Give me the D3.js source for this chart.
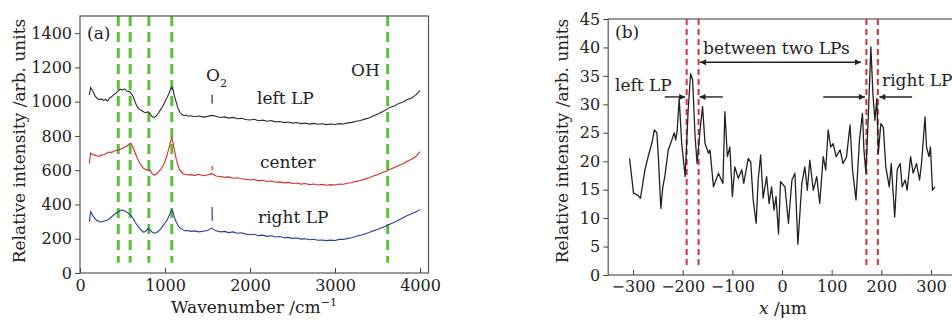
<!DOCTYPE html>
<html>
<head>
<meta charset="utf-8">
<script src="https://cdn.jsdelivr.net/npm/d3@7"></script>
<style>
  body { margin: 0; background: #fff; }
  svg text { font-family: "DejaVu Serif", serif; fill: #222; }
</style>
</head>
<body>
<svg id="chart" width="952" height="321"></svg>
<script>
// ---- panel (a): Raman spectra ----
const wavenumbers = [110, 125, 150, 175, 200, 225, 250, 275, 300, 325, 350, 375, 400, 425, 450, 475, 500, 525, 550, 575,
  600, 625, 650, 675, 700, 725, 750, 775, 800, 825, 850, 875, 900, 925, 950, 975, 1000, 1025, 1050, 1065,
  1080, 1095, 1110, 1130, 1150, 1175, 1200, 1225, 1250, 1275, 1300, 1350, 1400, 1450, 1500, 1550, 1600, 1650, 1700, 1750,
  1800, 1850, 1900, 1950, 2000, 2050, 2100, 2150, 2200, 2250, 2300, 2350, 2400, 2450, 2500, 2550, 2600, 2650, 2700, 2750,
  2800, 2850, 2900, 2950, 3000, 3050, 3100, 3150, 3200, 3250, 3300, 3350, 3400, 3450, 3500, 3550, 3600, 3650, 3700, 3750,
  3800, 3850, 3900, 3950, 4000];
const leftLP = [1040, 1082, 1062, 1035, 1020, 1012, 1016, 1008, 1013, 1004, 1022, 1030, 1042, 1050, 1063, 1072, 1068, 1075, 1062, 1060,
  1050, 1030, 995, 968, 955, 948, 940, 936, 942, 928, 912, 908, 918, 935, 955, 975, 1000, 1025, 1052, 1072,
  1086, 1068, 1035, 1000, 965, 938, 925, 918, 922, 915, 918, 912, 916, 910, 914, 920, 915, 908, 911, 904,
  908, 900, 903, 896, 893, 897, 889, 892, 886, 890, 882, 884, 878, 881, 875, 878, 872, 875, 869, 873,
  868, 871, 866, 870, 867, 872, 870, 876, 879, 886, 890, 898, 905, 916, 926, 940, 952, 968, 975, 990,
  998, 1012, 1022, 1038, 1065];
const center = [640, 700, 692, 688, 684, 680, 688, 690, 695, 702, 706, 704, 712, 715, 718, 722, 728, 735, 740, 752,
  758, 730, 700, 668, 645, 625, 610, 604, 598, 600, 580, 572, 578, 590, 605, 625, 650, 690, 735, 768,
  788, 760, 720, 670, 630, 600, 585, 578, 575, 572, 574, 570, 576, 568, 572, 580, 566, 563, 558, 561,
  553, 556, 550, 547, 543, 546, 538, 541, 534, 537, 530, 532, 526, 529, 522, 525, 519, 522, 516, 519,
  514, 517, 512, 516, 514, 519, 518, 524, 528, 535, 540, 548, 556, 566, 574, 585, 594, 606, 616, 628,
  638, 652, 664, 680, 708];
const rightLP = [300, 358, 335, 318, 306, 300, 298, 302, 305, 310, 318, 330, 340, 350, 358, 366, 368, 362, 355, 345,
  335, 318, 295, 278, 262, 248, 238, 245, 260, 250, 238, 232, 236, 245, 258, 275, 292, 310, 335, 355,
  368, 352, 325, 300, 280, 264, 256, 250, 246, 248, 243, 246, 240, 244, 248, 262, 246, 240, 243, 236,
  240, 232, 235, 227, 223, 226, 218, 221, 214, 217, 210, 213, 206, 208, 202, 204, 198, 200, 194, 197,
  191, 193, 189, 192, 190, 196, 196, 202, 206, 214, 220, 228, 236, 246, 254, 264, 274, 286, 296, 310,
  322, 336, 346, 356, 370];
const bandLines = [450, 590, 810, 1080, 3620];
const o2Band = 1555;
const o2Marks = [[990, 1040], [600, 625], [305, 385]];
const wnTicks = [0, 1000, 2000, 3000, 4000];
const intensityTicksA = [0, 200, 400, 600, 800, 1000, 1200, 1400];

// ---- panel (b): intensity profile across the line ----
const positions = [-307, -299, -290, -285, -276, -269, -262, -257, -252, -249, -244, -240, -236, -229, -222, -217, -214, -211, -207, -202,
  -195, -189, -184, -180, -175, -171, -165, -160, -155, -148, -145, -138, -128, -119, -115, -110, -105, -100, -95, -88,
  -81, -77, -68, -63, -58, -52, -48, -43, -38, -31, -26, -21, -16, -12, -7, -3, 1, 6, 13, 20,
  26, 32, 40, 46, 51, 56, 63, 70, 76, 83, 88, 93, 98, 103, 109, 117, 123, 130, 137, 142,
  149, 156, 162, 165, 169, 174, 179, 183, 187, 191, 194, 199, 204, 209, 216, 220, 227, 232, 238, 242,
  248, 252, 259, 264, 271, 277, 281, 288, 291, 296, 299, 303, 308];
const profile = [20.5, 14.4, 14.0, 13.5, 18.5, 21, 23.2, 25.5, 25, 20.8, 11.7, 15.5, 17.3, 22, 23.7, 25, 23.7, 25.5, 31, 23.1,
  17.3, 29, 35.4, 34.3, 24.3, 19.6, 25.5, 29.6, 23.1, 21.4, 22, 15.5, 17.9, 16.1, 28.7, 20.8, 22.5, 13.8, 19, 17,
  18.5, 16.1, 20.5, 19.9, 13.2, 9.1, 16.7, 21.1, 13.5, 17.3, 12.6, 15.5, 11.4, 13.8, 7.2, 16.4, 16.0, 15.5, 9.1, 16.7,
  17.9, 5.4, 16.1, 19, 14.9, 20.2, 14.9, 17.3, 12.6, 20.8, 18.5, 25.5, 22.5, 23.1, 20.8, 22, 19.6, 20.8, 26.4, 18.5,
  13.2, 23.7, 28.4, 22, 17.9, 28.4, 40.1, 31.9, 27.2, 31, 21.4, 26.6, 26, 19, 15.5, 19.6, 10.2, 18.5, 19.6, 15.5,
  16.7, 14.9, 20.8, 17.9, 19.6, 16.7, 19.6, 27.8, 22.5, 20.8, 22.5, 14.9, 15.5];
const lpEdges = [-192, -168, 170, 193];
const posTicks = [-300, -200, -100, 0, 100, 200, 300];
const intensityTicksB = [0, 5, 10, 15, 20, 25, 30, 35, 40, 45];

const svg = d3.select('#chart');

const defs = svg.append('defs');
['arrowEnd', 'arrowStart'].forEach((id, k) => {
  defs.append('marker')
    .attr('id', id)
    .attr('viewBox', '0 0 10 10')
    .attr('refX', k === 0 ? 10 : 0)
    .attr('refY', 5)
    .attr('markerWidth', 9)
    .attr('markerHeight', 6)
    .attr('markerUnits', 'userSpaceOnUse')
    .attr('orient', 'auto')
    .append('path')
    .attr('d', k === 0 ? 'M0,0L10,5L0,10Z' : 'M10,0L0,5L10,10Z')
    .attr('fill', '#222');
});

function styleAxis(g, size) {
  g.select('.domain').remove();
  g.selectAll('text').attr('font-family', '"DejaVu Serif", serif').attr('font-size', size).attr('fill', '#222');
  g.selectAll('line').attr('stroke', '#444');
}

const plain = d => (d < 0 ? '\u2212' + Math.abs(d) : String(d));

// ================= panel (a) =================
const xA = d3.scaleLinear().domain([0, 4100]).range([80, 428.5]);
const yA = d3.scaleLinear().domain([0, 1500]).range([273, 16]);
const gA = svg.append('g');

gA.selectAll('line.band')
  .data(bandLines)
  .enter()
  .append('line')
  .attr('x1', d => xA(d))
  .attr('x2', d => xA(d))
  .attr('y1', yA(1500))
  .attr('y2', yA(60))
  .attr('stroke', '#5cbf3a')
  .attr('stroke-width', 3)
  .attr('stroke-dasharray', '10,6');

const spectra = [
  { values: leftLP, color: '#2a2a2a' },
  { values: center, color: '#d12b2b' },
  { values: rightLP, color: '#2c3b9e' }
];
const specLine = d3.line()
  .x((d, i) => xA(wavenumbers[i]))
  .y(d => yA(d));
gA.selectAll('path.spec')
  .data(spectra)
  .enter()
  .append('path')
  .attr('d', d => specLine(d.values))
  .attr('fill', 'none')
  .attr('stroke', d => d.color)
  .attr('stroke-width', 1.1);

gA.selectAll('line.o2')
  .data(o2Marks)
  .enter()
  .append('line')
  .attr('x1', xA(o2Band))
  .attr('x2', xA(o2Band))
  .attr('y1', d => yA(d[0]))
  .attr('y2', d => yA(d[1]))
  .attr('stroke', (d, i) => spectra[i].color)
  .attr('stroke-width', 1.2);

gA.append('rect')
  .attr('x', xA(0)).attr('y', yA(1500))
  .attr('width', xA(4100) - xA(0)).attr('height', yA(0) - yA(1500))
  .attr('fill', 'none').attr('stroke', '#555').attr('stroke-width', 1.2);

gA.append('g')
  .attr('transform', `translate(0,${yA(0)})`)
  .call(d3.axisBottom(xA).tickValues(wnTicks).tickFormat(plain).tickSize(-5).tickSizeOuter(0).tickPadding(7))
  .call(g => styleAxis(g, 16));
gA.append('g')
  .attr('transform', `translate(${xA(0)},0)`)
  .call(d3.axisLeft(yA).tickValues(intensityTicksA).tickFormat(plain).tickSize(5).tickSizeOuter(0).tickPadding(3))
  .call(g => styleAxis(g, 16));

gA.append('text').attr('x', 87).attr('y', 39).attr('font-size', 17).text('(a)');
const o2 = gA.append('text').attr('x', 206).attr('y', 81).attr('font-size', 17).text('O');
o2.append('tspan').attr('dy', 6).attr('font-size', 11).text('2');
gA.append('text').attr('x', 351).attr('y', 76).attr('font-size', 17).text('OH');
gA.append('text').attr('x', 257).attr('y', 104).attr('font-size', 17).text('left LP');
gA.append('text').attr('x', 260).attr('y', 168).attr('font-size', 17).text('center');
gA.append('text').attr('x', 258).attr('y', 223).attr('font-size', 17).text('right LP');

gA.append('text')
  .attr('transform', 'translate(25,141) rotate(-90)')
  .attr('text-anchor', 'middle')
  .attr('font-size', 17)
  .text('Relative intensity /arb. units');
const xtA = gA.append('text')
  .attr('x', 254).attr('y', 313)
  .attr('text-anchor', 'middle')
  .attr('font-size', 17)
  .text('Wavenumber /cm');
xtA.append('tspan').attr('dy', -7).attr('font-size', 11).text('\u22121');

// ================= panel (b) =================
const xB = d3.scaleLinear().domain([-350, 350]).range([608.2, 955.8]);
const yB = d3.scaleLinear().domain([0, 45]).range([275, 19]);
const gB = svg.append('g');

gB.selectAll('line.edge')
  .data(lpEdges)
  .enter()
  .append('line')
  .attr('x1', d => xB(d))
  .attr('x2', d => xB(d))
  .attr('y1', yB(45))
  .attr('y2', yB(1.3))
  .attr('stroke', '#d3313a')
  .attr('stroke-width', 2)
  .attr('stroke-dasharray', '6,4');

const profLine = d3.line()
  .x((d, i) => xB(positions[i]))
  .y(d => yB(d));
gB.append('path')
  .attr('d', profLine(profile))
  .attr('fill', 'none')
  .attr('stroke', '#222')
  .attr('stroke-width', 1.3)
  .attr('stroke-linejoin', 'round');

gB.append('rect')
  .attr('x', xB(-350)).attr('y', yB(45))
  .attr('width', xB(350) - xB(-350)).attr('height', yB(0) - yB(45))
  .attr('fill', 'none').attr('stroke', '#555').attr('stroke-width', 1.2);

gB.append('g')
  .attr('transform', `translate(0,${yB(0)})`)
  .call(d3.axisBottom(xB).tickValues(posTicks).tickSize(-5).tickSizeOuter(0).tickPadding(6).tickFormat(plain))
  .call(g => styleAxis(g, 16));
gB.append('g')
  .attr('transform', `translate(${xB(-350)},0)`)
  .call(d3.axisLeft(yB).tickValues(intensityTicksB).tickFormat(plain).tickSize(5).tickSizeOuter(0).tickPadding(3))
  .call(g => styleAxis(g, 16));

// annotation arrows
const arrows = [
  { from: -165, to: 159, y: 37.4, both: true },
  { from: -236, to: -195, y: 31.3 },
  { from: -119, to: -166, y: 31.3 },
  { from: 83, to: 167, y: 31.3 },
  { from: 262, to: 196, y: 31.3 }
];
gB.selectAll('line.arrow')
  .data(arrows)
  .enter()
  .append('line')
  .attr('x1', d => xB(d.from))
  .attr('x2', d => xB(d.to))
  .attr('y1', d => yB(d.y))
  .attr('y2', d => yB(d.y))
  .attr('stroke', '#222')
  .attr('stroke-width', 1.4)
  .attr('marker-end', 'url(#arrowEnd)')
  .attr('marker-start', d => d.both ? 'url(#arrowStart)' : null);

gB.append('text').attr('x', 615).attr('y', 38).attr('font-size', 17).text('(b)');
gB.append('text').attr('x', 703).attr('y', 54).attr('font-size', 17).text('between two LPs');
gB.append('text').attr('x', 615).attr('y', 91).attr('font-size', 17).text('left LP');
gB.append('text').attr('x', 882).attr('y', 86).attr('font-size', 17).text('right LP');

gB.append('text')
  .attr('transform', 'translate(568,141) rotate(-90)')
  .attr('text-anchor', 'middle')
  .attr('font-size', 17)
  .text('Relative intensity /arb. units');
const xtB = gB.append('text')
  .attr('x', 783).attr('y', 314)
  .attr('text-anchor', 'middle')
  .attr('font-size', 17);
xtB.append('tspan').attr('font-style', 'italic').text('x');
xtB.append('tspan').text(' /\u03bcm');
</script>
</body>
</html>
